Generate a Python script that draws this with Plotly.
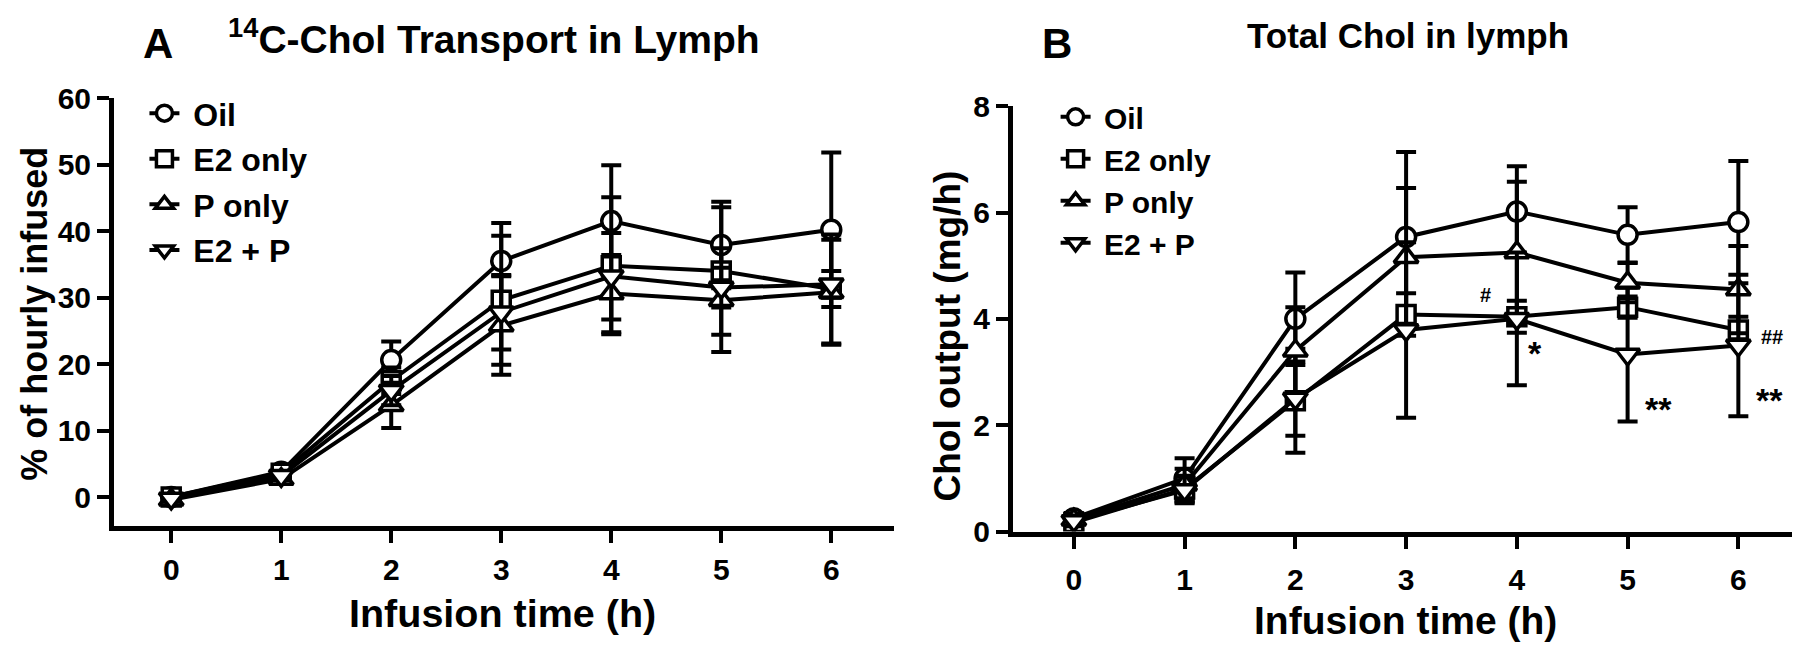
import plotly.graph_objects as go

# ---------------- data ----------------
time_h = [0, 1, 2, 3, 4, 5, 6]
group_names = ["Oil", "E2 only", "P only", "E2 + P"]

# Panel A: 14C-Chol transport (% of hourly infused)
oil_a = [0.0, 3.8, 20.6, 35.5, 41.5, 37.9, 40.2]
oil_a_err = [0.5, 0.6, 2.8, 5.7, 8.4, 6.5, 11.6]
e2_a = [0.0, 3.6, 17.5, 29.6, 34.8, 34.0, 31.3]
e2_a_err = [0.5, 0.7, 2.0, 9.7, 10.3, 9.6, 8.2]
p_a = [-0.4, 2.7, 13.8, 25.8, 30.6, 29.6, 30.8]
p_a_err = [0.6, 0.7, 3.4, 7.4, 5.8, 7.8, 7.9]
e2p_a = [-0.2, 3.2, 16.0, 27.8, 33.2, 31.5, 32.0]
e2p_a_err = [0.5, 0.7, 2.2, 5.6, 6.5, 3.0, 2.0]

# Panel B: total chol output (mg/h)
oil_b = [0.25, 1.0, 4.0, 5.54, 6.02, 5.58, 5.82]
oil_b_err = [0.1, 0.38, 0.87, 1.6, 0.85, 0.52, 1.15]
e2_b = [0.17, 0.8, 2.46, 4.08, 4.04, 4.22, 3.79]
e2_b_err = [0.1, 0.25, 0.98, 0.4, 0.3, 0.2, 0.25]
p_b = [0.22, 0.88, 3.4, 5.16, 5.25, 4.68, 4.55]
p_b_err = [0.1, 0.3, 0.82, 1.3, 1.33, 0.37, 0.82]
e2p_b = [0.2, 0.78, 2.5, 3.79, 4.0, 3.33, 3.5]
e2p_b_err = [0.1, 0.25, 0.7, 1.65, 1.25, 1.26, 1.33]

# significance marks in panel B
sig_text = ["#", "*", "**", "##", "**"]
sig_x = [3.72, 4.16, 5.28, 6.3, 6.28]
sig_y = [4.45, 3.35, 2.3, 3.66, 2.48]
sig_size = [20, 34, 34, 20, 34]

x_ticks = [0, 1, 2, 3, 4, 5, 6]
a_yticks = [0, 10, 20, 30, 40, 50, 60]
b_yticks = [0, 2, 4, 6, 8]

# ---------------- style ----------------
FONT = "Liberation Sans, Arial, Helvetica, sans-serif"
symbols = ["circle", "square", "triangle-up", "triangle-down"]
msize = [19, 18, 21, 21]

fig = go.Figure()

panel_a = [(oil_a, oil_a_err), (e2_a, e2_a_err), (p_a, p_a_err), (e2p_a, e2p_a_err)]
panel_b = [(oil_b, oil_b_err), (e2_b, e2_b_err), (p_b, p_b_err), (e2p_b, e2p_b_err)]

for i, (vals, errs) in enumerate(panel_a):
    fig.add_trace(go.Scatter(
        x=time_h, y=vals, mode="lines+markers",
        name="\u00a0" + group_names[i],
        line=dict(color="black", width=4),
        marker=dict(symbol=symbols[i], size=msize[i], color="white",
                    line=dict(color="black", width=3.5)),
        error_y=dict(type="data", array=errs, visible=True,
                     color="black", thickness=4, width=10),
        xaxis="x", yaxis="y", legend="legend", legendgroup="a%d" % i,
    ))

for i, (vals, errs) in enumerate(panel_b):
    fig.add_trace(go.Scatter(
        x=time_h, y=vals, mode="lines+markers",
        name="\u00a0" + group_names[i],
        line=dict(color="black", width=4),
        marker=dict(symbol=symbols[i], size=msize[i], color="white",
                    line=dict(color="black", width=3.5)),
        error_y=dict(type="data", array=errs, visible=True,
                     color="black", thickness=4, width=10),
        xaxis="x2", yaxis="y2", legend="legend2", legendgroup="b%d" % i,
    ))

tickfont = dict(family=FONT, size=30, color="black", weight="bold")
axis_common = dict(showgrid=False, zeroline=False, showline=True, linecolor="black",
                   linewidth=5, ticks="outside", ticklen=12, tickwidth=4,
                   tickcolor="black", tickfont=tickfont, mirror=False)

fig.update_layout(
    width=1800, height=654,
    margin=dict(l=0, r=0, t=0, b=0),
    paper_bgcolor="white", plot_bgcolor="white",
    xaxis=dict(domain=[0.0589, 0.4922], range=[-0.52, 6.57], tickvals=x_ticks,
               anchor="y", ticklabelstandoff=1, **axis_common),
    yaxis=dict(domain=[0.1927, 0.8823], range=[-4.4, 60], tickvals=a_yticks,
               anchor="x", **axis_common),
    xaxis2=dict(domain=[0.5583, 0.9933], range=[-0.55, 6.52], tickvals=x_ticks,
                anchor="y2", ticklabelstandoff=5, **axis_common),
    yaxis2=dict(domain=[0.1843, 0.8693], range=[0, 8], tickvals=b_yticks,
                anchor="x2", **axis_common),
    legend=dict(x=0.0758, y=0.902, xanchor="left", yanchor="top",
                bgcolor="rgba(0,0,0,0)", tracegroupgap=1,
                font=dict(family=FONT, size=32, color="black", weight="bold")),
    legend2=dict(x=0.582, y=0.894, xanchor="left", yanchor="top",
                 bgcolor="rgba(0,0,0,0)", tracegroupgap=0,
                 font=dict(family=FONT, size=30, color="black", weight="bold")),
    showlegend=True,
)

ann = []
def txt(s, x, y, size, xref="paper", yref="paper", angle=0):
    ann.append(dict(text=s, x=x, y=y, xref=xref, yref=yref, showarrow=False,
                    textangle=angle, xanchor="center", yanchor="middle",
                    font=dict(family=FONT, size=size, color="black", weight="bold")))

# panel letters and titles
txt("A", 150 / 1800, 1 - 19 / 654, 42)
txt("<sup>14</sup>C-Chol Transport in Lymph", 486 / 1800, 1 - 12 / 654, 39)
txt("B", 1049 / 1800, 1 - 20 / 654, 42)
txt("Total Chol in lymph", 1400 / 1800, 1 - 11 / 654, 35)
# axis titles
txt("Infusion time (h)", 494 / 1800, 1 - 619 / 654, 39.5)
txt("Infusion time (h)", 1397 / 1800, 1 - 627 / 654, 39)
txt("% of hourly infused", 27 / 1800, 1 - 304 / 654, 36, angle=-90)
txt("Chol output (mg/h)", 939 / 1800, 1 - 327 / 654, 37, angle=-90)

for s, x, y, sz in zip(sig_text, sig_x, sig_y, sig_size):
    ann.append(dict(text=s, x=x, y=y, xref="x2", yref="y2", showarrow=False,
                    xanchor="center", yanchor="middle",
                    font=dict(family=FONT, size=sz, color="black", weight="bold")))

fig.update_layout(annotations=ann)
fig.write_html("out.html")
